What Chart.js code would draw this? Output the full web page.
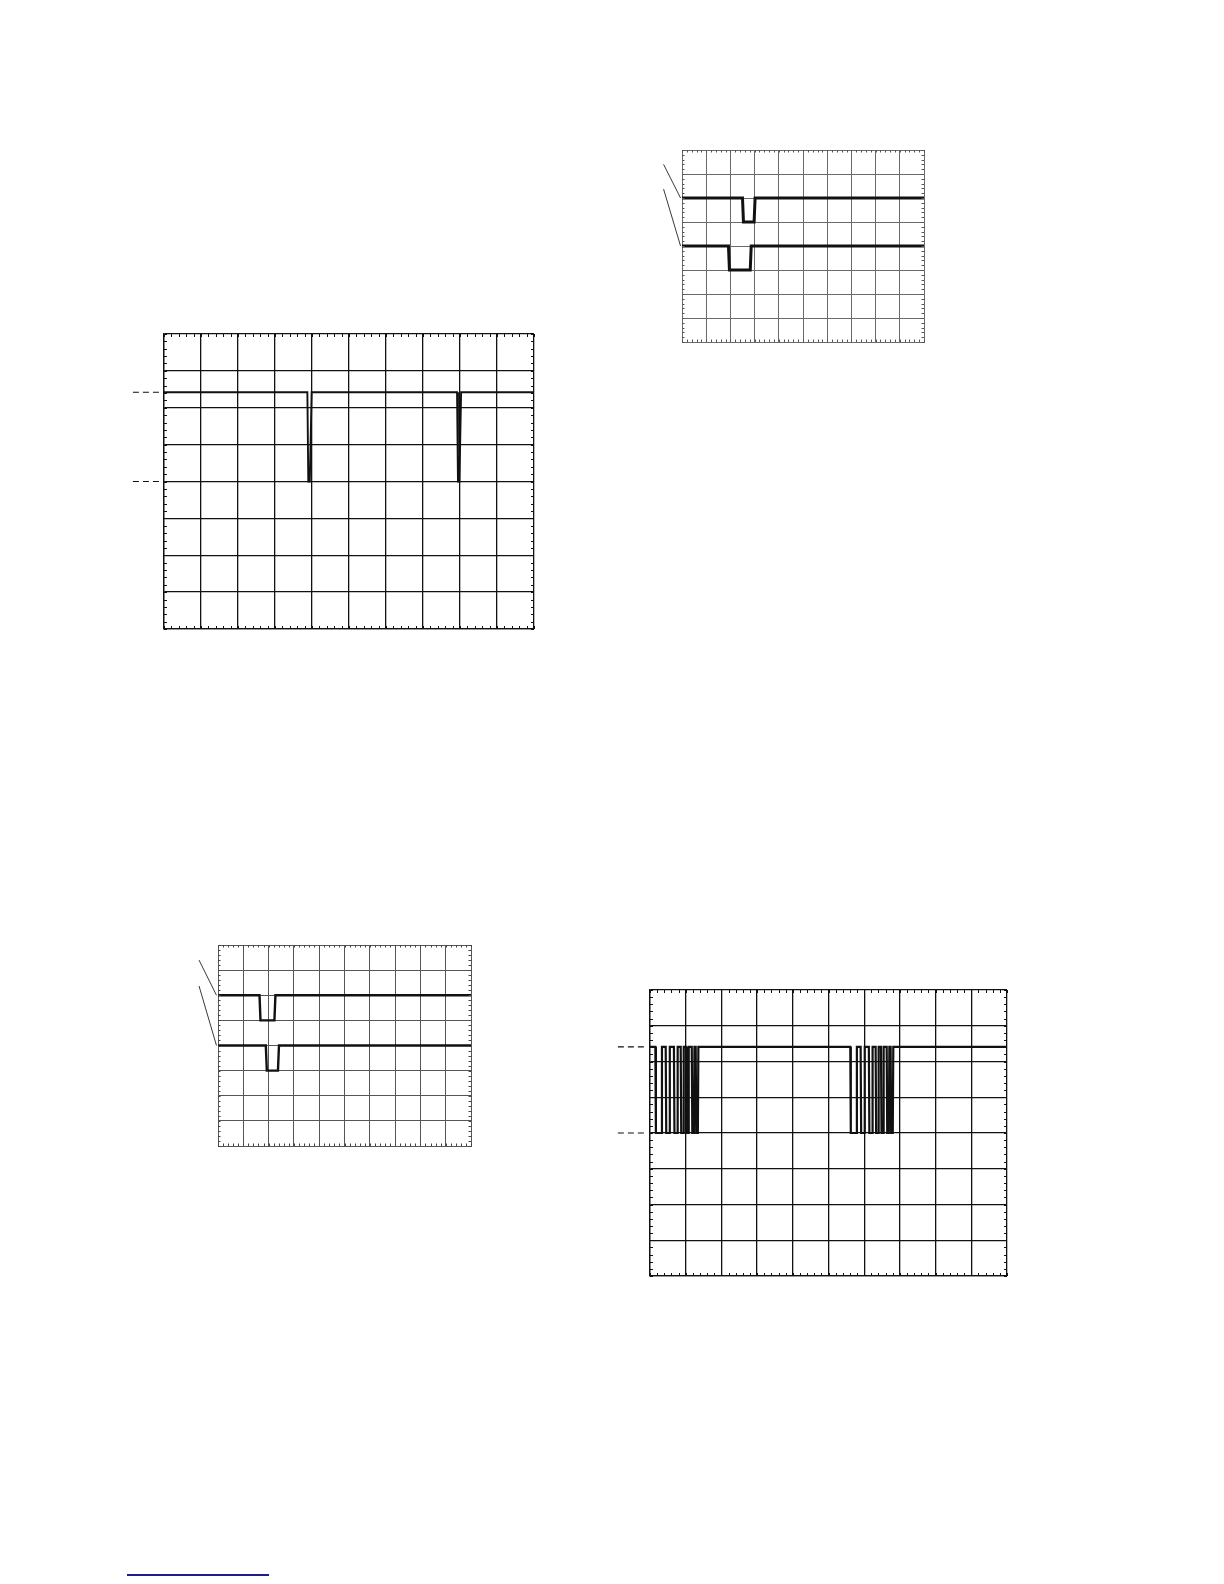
<!DOCTYPE html>
<html>
<head>
<meta charset="utf-8">
<script src="https://cdn.jsdelivr.net/npm/chart.js@4.4.1/dist/chart.umd.min.js"></script>
<style>
  html, body { margin:0; padding:0; background:#fff; }
  body { width:1224px; height:1584px; position:relative; overflow:hidden; }
  canvas { position:absolute; }
  #footLine { position:absolute; left:127px; top:1574px; width:142px; height:2px; background:#1c1c8a; }
</style>
</head>
<body>
<canvas id="scope1" width="425" height="320" style="left:120px;top:320px"></canvas>
<canvas id="scope2" width="295" height="220" style="left:640px;top:135px"></canvas>
<canvas id="scope3" width="305" height="230" style="left:176px;top:930px"></canvas>
<canvas id="scope4" width="420" height="315" style="left:600px;top:975px"></canvas>
<div id="footLine"></div>

<script>
// ekran: 10 x 8 bölme
const divX = [0, 10];
const divY = [0, 8];

// ekran 1 (tek kanal, iki kısa darbe)
const s1X = [0, 3.875, 3.9, 3.94, 3.99, 7.92, 7.945, 7.985, 8.03, 10];
const s1Y = [6.42, 6.42, 4.0, 4.0, 6.42, 6.42, 4.0, 4.0, 6.42, 6.42];
const s1Marks = [6.42, 4.0];

// ekran 2 (iki kanal)
const s2aX = [0, 2.5, 2.54, 2.98, 3.02, 10];
const s2aY = [6, 6, 5, 5, 6, 6];
const s2bX = [0, 1.92, 1.96, 2.82, 2.86, 10];
const s2bY = [4, 4, 3, 3, 4, 4];

// ekran 3 (iki kanal)
const s3aX = [0, 1.64, 1.68, 2.23, 2.27, 10];
const s3aY = [6, 6, 5, 5, 6, 6];
const s3bX = [0, 1.89, 1.93, 2.37, 2.41, 10];
const s3bY = [4, 4, 3, 3, 4, 4];

// işaret çizgilerinin çıkış noktaları (ekran 2 ve 3)
const pointerFrom = [7.4, 6.37];
const pointerTo = [6, 4];

// ekran 4 (veri patlamaları)
const s4High = 6.41;
const s4Low = 4.0;
const s4Fall = [0.15, 0.44, 0.67, 0.86, 1.01, 1.17, 1.28, 5.61, 5.90, 6.13, 6.32, 6.47, 6.63, 6.74];
const s4Rise = [0.32, 0.54, 0.76, 0.93, 1.07, 1.23, 1.34, 5.78, 6.00, 6.22, 6.39, 6.53, 6.69, 6.80];

function pts(xs, ys){
  return xs.map((x, i) => ({ x, y: ys[i] }));
}

function burstPoints(){
  const p = [{ x: divX[0], y: s4High }];
  s4Fall.forEach((f, i) => {
    p.push({ x: f, y: s4High }, { x: f + 0.015, y: s4Low });
    p.push({ x: s4Rise[i], y: s4Low }, { x: s4Rise[i] + 0.015, y: s4High });
  });
  p.push({ x: divX[1], y: s4High });
  return p;
}

/* ---------------------------
   Kenar tikleri, kesikli seviye çizgileri, işaret çizgileri
   --------------------------- */
const scopeDecor = {
  id: 'scopeDecor',
  afterDraw(chart, args, o){
    const { ctx, chartArea: a } = chart;
    const sx = chart.scales.x, sy = chart.scales.y;
    ctx.save();
    ctx.strokeStyle = o.tickColor;
    ctx.lineWidth = 1;
    ctx.beginPath();
    for (let i = 0; i <= divX[1] * 5; i++) {
      const px = Math.round(sx.getPixelForValue(i / 5)) + 0.5;
      ctx.moveTo(px, a.top); ctx.lineTo(px, a.top + o.tickLen);
      ctx.moveTo(px, a.bottom); ctx.lineTo(px, a.bottom - o.tickLen);
    }
    for (let i = 0; i <= divY[1] * 5; i++) {
      const py = Math.round(sy.getPixelForValue(i / 5)) + 0.5;
      ctx.moveTo(a.left, py); ctx.lineTo(a.left + o.tickLen, py);
      ctx.moveTo(a.right, py); ctx.lineTo(a.right - o.tickLen, py);
    }
    ctx.stroke();

    // seviye işaretleri (kesikli)
    if (o.marks) {
      ctx.strokeStyle = '#111';
      ctx.lineWidth = 1.2;
      ctx.setLineDash([6, 4]);
      o.marks.forEach(v => {
        const py = sy.getPixelForValue(v);
        ctx.beginPath();
        ctx.moveTo(sx.getPixelForValue(o.markFrom), py);
        ctx.lineTo(sx.getPixelForValue(o.markTo), py);
        ctx.stroke();
      });
      ctx.setLineDash([]);
    }

    // kanal işaret çizgileri
    if (o.pointers) {
      ctx.strokeStyle = '#222';
      ctx.lineWidth = 0.9;
      o.pointers.from.forEach((v, i) => {
        ctx.beginPath();
        ctx.moveTo(sx.getPixelForValue(o.pointers.x0), sy.getPixelForValue(v));
        ctx.lineTo(sx.getPixelForValue(o.pointers.x1), sy.getPixelForValue(o.pointers.to[i]));
        ctx.stroke();
      });
    }
    ctx.restore();
  }
};

function makeScope(id, datasets, look){
  const ctx = document.getElementById(id).getContext('2d');
  const axis = (min, max) => ({
    type: 'linear', min, max,
    ticks: { display: false, stepSize: 1 },
    grid: { color: look.gridColor, lineWidth: look.gridWidth, drawTicks: false },
    border: { display: true, color: look.gridColor, width: look.gridWidth }
  });
  return new Chart(ctx, {
    type: 'line',
    data: {
      datasets: datasets.map(d => ({
        data: d,
        borderColor: '#111',
        borderWidth: look.traceWidth,
        pointRadius: 0,
        tension: 0,
        fill: false
      }))
    },
    options: {
      responsive: false,
      animation: false,
      events: [],
      layout: { padding: look.padding },
      scales: { x: axis(divX[0], divX[1]), y: axis(divY[0], divY[1]) },
      plugins: {
        legend: { display: false },
        tooltip: { enabled: false },
        scopeDecor: look.decor
      }
    },
    plugins: [scopeDecor]
  });
}

makeScope('scope1', [pts(s1X, s1Y)], {
  gridColor: '#111', gridWidth: 1.3, traceWidth: 1.9,
  padding: { left: 44, top: 14, right: 11, bottom: 11 },
  decor: { tickColor: '#111', tickLen: 3, marks: s1Marks, markFrom: -0.84, markTo: -0.05 }
});

makeScope('scope2', [pts(s2aX, s2aY), pts(s2bX, s2bY)], {
  gridColor: '#6a6a6a', gridWidth: 1, traceWidth: 3,
  padding: { left: 42, top: 15, right: 11, bottom: 13 },
  decor: { tickColor: '#555', tickLen: 2.5,
    pointers: { from: pointerFrom, to: pointerTo, x0: -0.76, x1: -0.06 } }
});

makeScope('scope3', [pts(s3aX, s3aY), pts(s3bX, s3bY)], {
  gridColor: '#555', gridWidth: 1, traceWidth: 2.4,
  padding: { left: 42, top: 15, right: 10, bottom: 14 },
  decor: { tickColor: '#444', tickLen: 2.5,
    pointers: { from: pointerFrom, to: pointerTo, x0: -0.75, x1: -0.06 } }
});

makeScope('scope4', [burstPoints()], {
  gridColor: '#111', gridWidth: 1.3, traceWidth: 2.2,
  padding: { left: 50, top: 15, right: 13, bottom: 14 },
  decor: { tickColor: '#111', tickLen: 3, marks: [s4High, s4Low], markFrom: -0.9, markTo: -0.06 }
});
</script>
</body>
</html>
